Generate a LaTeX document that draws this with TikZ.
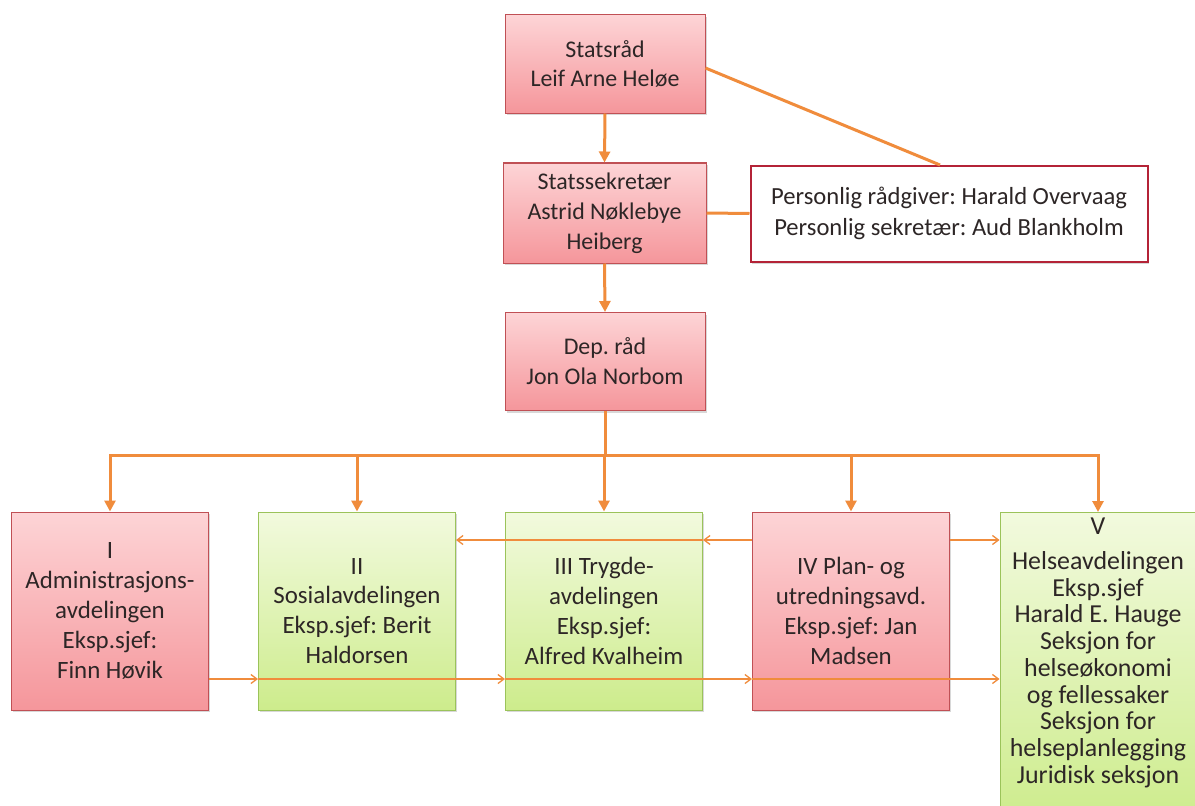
\documentclass[tikz,border=0pt]{standalone}
\usepackage{fontspec}
\setmainfont{Carlito}
\usetikzlibrary{arrows.meta,shadows}
\definecolor{org}{RGB}{240,140,60}
\definecolor{txt}{RGB}{45,38,38}
\definecolor{redb}{RGB}{192,80,85}
\definecolor{redt}{RGB}{253,212,214}
\definecolor{redbt}{RGB}{245,150,155}
\definecolor{grnb}{RGB}{155,195,90}
\definecolor{grnt}{RGB}{242,250,222}
\definecolor{grnbt}{RGB}{205,236,140}
\definecolor{persb}{RGB}{180,35,55}
\begin{document}
\frenchspacing
\begin{tikzpicture}[x=1bp,y=-1bp,
  box/.style={draw, line width=1bp, align=center, inner sep=2bp, text=txt,
    font=\fontsize{24}{30}\selectfont,
    drop shadow={shadow xshift=1.5bp, shadow yshift=-2bp, opacity=0.3}},
  redbox/.style={box, draw=redb, top color=redt, bottom color=redbt},
  greenbox/.style={box, draw=grnb, top color=grnt, bottom color=grnbt},
  topbox/.style={minimum width=200bp, minimum height=98bp},
  lowbox/.style={minimum width=197bp, minimum height=198bp, font=\fontsize{25}{30}\selectfont},
  thickline/.style={draw=org, line width=3bp},
  thickarrow/.style={thickline, -{Triangle[length=11bp,width=11bp]}},
  thinarrow/.style={draw=org, line width=1.3bp, -{Straight Barb[length=6bp,width=9bp]}}
]
\useasboundingbox (0,0) rectangle (1195,806);
\clip (0,0) rectangle (1195,806);
\fill[white] (0,0) rectangle (1195,806);

% top chain
\node[redbox, topbox] (sr) at (605,64) {Statsråd\\Leif Arne Heløe};
\node[redbox, minimum width=203bp, minimum height=100bp] (ss) at (604.5,213) {Statssekretær\\Astrid Nøklebye\\Heiberg};
\node[box, draw=persb, line width=2bp, fill=white, minimum width=397bp, minimum height=96bp, drop shadow={opacity=0},
  font=\fontsize{24.7}{31}\selectfont] (pers) at (949,213.5)
  {Personlig rådgiver: Harald Overvaag\\Personlig sekretær: Aud Blankholm};
\node[redbox, topbox] (dep) at (605,361.5) {Dep. råd\\Jon Ola Norbom};

% departments
\node[redbox, lowbox] (d1) at (110,611) {I\\Administrasjons-\\avdelingen\\Eksp.sjef:\\Finn Høvik};
\node[greenbox, lowbox] (d2) at (357,611) {II\\Sosialavdelingen\\Eksp.sjef: Berit\\Haldorsen};
\node[greenbox, lowbox] (d3) at (604,611) {III Trygde-\\avdelingen\\Eksp.sjef:\\Alfred Kvalheim};
\node[redbox, lowbox] (d4) at (851,611) {IV Plan- og\\utredningsavd.\\Eksp.sjef: Jan\\Madsen};
\node[greenbox, anchor=north, minimum width=196bp, minimum height=310bp] (d5) at (1098,512) {};
\node[anchor=north, align=center, inner sep=0pt, text=txt, font=\fontsize{26}{26.8}\selectfont] (d5t) at (1098,518)
  {V\\[8bp]Helseavdelingen\\Eksp.sjef\\Harald E. Hauge\\Seksjon for\\helseøkonomi\\og fellessaker\\Seksjon for\\helseplanlegging\\Juridisk seksjon};

% thick connectors
\coordinate (pj) at (940,165);
\draw[thickline] (sr.east) ++(0,4) -- (pj);
\draw[thickline] (ss.east) -- (pers.west);
\draw[thickarrow] (sr.south) -- (ss.north);
\draw[thickarrow] (ss.south) -- (dep.north);
\coordinate (bus) at (605,455);
\draw[thickline] (dep.south) -- (bus);
\foreach \d in {d1,d2,d3,d4,d5} {
  \draw[thickarrow] (bus) -| (\d.north);
}

% thin arrows
\coordinate (ya) at (0,540);
\coordinate (yb) at (0,679);
\draw[thinarrow] (d4.west |- ya) -- (d3.east |- ya);
\draw[thinarrow] (d3.east |- ya) -- (d2.east |- ya);
\draw[thinarrow] (d4.east |- ya) -- (d5.west |- ya);
\draw[thinarrow] (d1.east |- yb) -- (d2.west |- yb);
\draw[thinarrow] (d2.west |- yb) -- (d3.west |- yb);
\draw[thinarrow] (d3.west |- yb) -- (d4.west |- yb);
\draw[thinarrow] (d4.west |- yb) -- (d5.west |- yb);
\end{tikzpicture}
\end{document}
